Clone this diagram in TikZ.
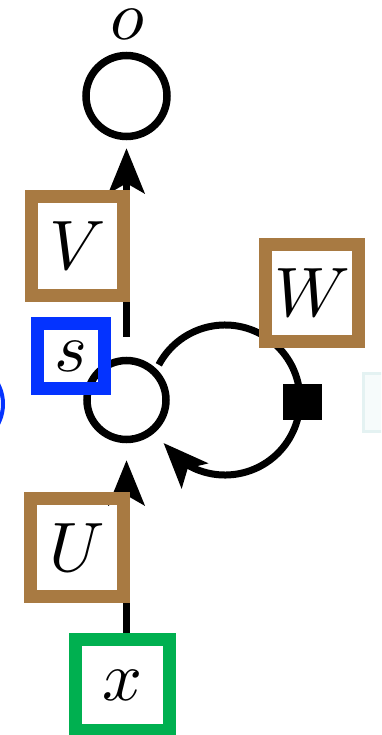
\documentclass[tikz,border=0pt]{standalone}
\usepackage{graphicx}
\usetikzlibrary{arrows.meta,bending}
\definecolor{brownbox}{RGB}{168,122,66}
\definecolor{bluebox}{RGB}{4,51,255}
\definecolor{greenbox}{RGB}{0,176,80}
\definecolor{faintline}{RGB}{228,242,242}
\definecolor{faintfill}{RGB}{246,251,251}
\newcommand{\biglbl}[1]{\scalebox{7}{$#1$}}
\pgfdeclarelayer{bg}
\pgfsetlayers{bg,main}
\begin{document}
\begin{tikzpicture}[x=1pt,y=-1pt,
  lbl/.style={inner sep=0pt},
  unit/.style={circle, draw, line width=7.5pt, inner sep=0pt, minimum size=#1},
  annot/.style={draw=#1, line width=13pt, inner sep=0pt},
  conn/.style={line width=7pt, -{Stealth[length=45pt,width=36pt,inset=10pt]}},
  loopconn/.style={line width=7pt, -{Stealth[length=45pt,width=36pt,inset=10pt,flex'=0.5]}},
  gate/.style={fill=black, inner sep=0pt, minimum width=39pt, minimum height=36pt},
]
\clip (0,0) rectangle (381,735);
\useasboundingbox (0,0) rectangle (381,735);

% faint shapes at the edges
\draw[faintline, line width=3pt, fill=faintfill] (363,373) rectangle (400,431);
\draw[bluebox, line width=4pt] (-40,404) circle[radius=43];

% units
\node[unit=81pt] (o) at (126.5,96) {};
\node[lbl] (olab) at (127,24) {\biglbl{o}};
\node[unit=79pt] (s) at (126.5,400) {};
\node[gate] (sq) at (302,402) {};
\coordinate (lc) at (225,400);

% annotation boxes
\node[annot=brownbox, minimum width=92pt, minimum height=99pt] (V) at (77.5,246) {\biglbl{V}};
\node[annot=brownbox, minimum width=93pt, minimum height=97pt] (W) at (312,293) {\biglbl{W}};
\node[annot=bluebox, minimum width=67pt, minimum height=65pt] (sb) at (71,356) {\biglbl{s}};
\node[annot=brownbox, minimum width=93pt, minimum height=98pt] (U) at (77,547.5) {\biglbl{U}};
\node[annot=greenbox, minimum width=94pt, minimum height=91pt] (xb) at (122.5,685) {\biglbl{x}};

% connectors
\begin{pgfonlayer}{bg}
\draw[conn, shorten <=20pt, shorten >=8pt] (s) -- (o);
\draw[conn, shorten >=17pt] (xb.north -| s) -- (s);
\draw[loopconn] (lc) ++(208:75) arc[start angle=208, end angle=505, radius=75];
\end{pgfonlayer}
\end{tikzpicture}
\end{document}
